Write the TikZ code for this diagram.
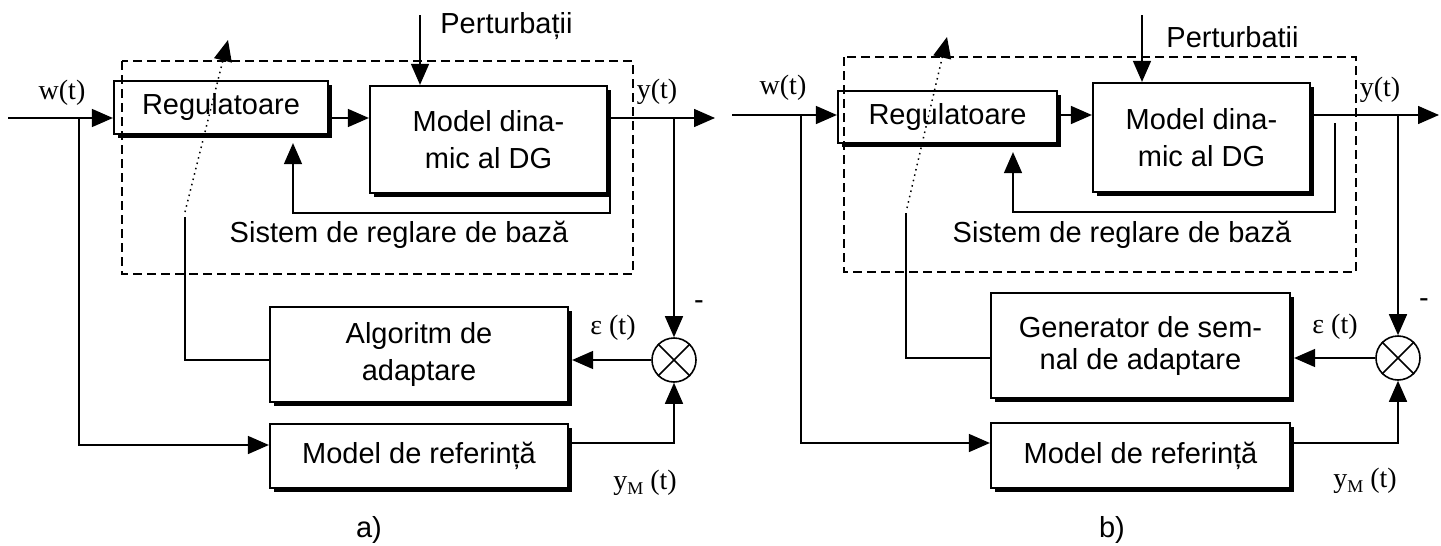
\documentclass[tikz,border=0pt]{standalone}
\usepackage{fontspec}
\setmainfont{Liberation Sans}
\newfontfamily\serf{Liberation Serif}
\usetikzlibrary{arrows.meta,shadows}
\begin{document}
\begin{tikzpicture}[x=0.5pt,y=-0.5pt,
  conn/.style={line width=0.75pt},
  arr/.style={conn,-{Triangle[length=10.5pt,width=9pt]}},
  blk/.style={draw,line width=1.1pt,fill=white,inner sep=2pt,align=center,
    font=\fontsize{14.5}{18.5}\selectfont,
    drop shadow={shadow xshift=2pt,shadow yshift=-2pt,fill=black,opacity=1}},
  sumnode/.style={draw,circle,line width=0.8pt,minimum size=22pt,inner sep=0pt},
  dashbox/.style={line width=0.75pt,dash pattern=on 4.5pt off 2.5pt},
  lbl/.style={font=\fontsize{14.5}{17}\selectfont,inner sep=0pt},
  sig/.style={font=\serf\fontsize{14}{16}\selectfont,inner sep=0pt},
]
\useasboundingbox (0,0) rectangle (1441,546);

% ================= a) =================
\node[blk,minimum width=107pt,minimum height=26.5pt] (a-reg) at (221,107.5) {Regulatoare};
\node[blk,minimum width=118.5pt,minimum height=53.5pt] (a-mod) at (488.5,139.5) {Model dina-\\mic al DG};
\node[blk,minimum width=149pt,minimum height=47.5pt] (a-alg) at (419,354.5) {Algoritm de\\adaptare};
\node[blk,minimum width=149pt,minimum height=32pt] (a-ref) at (419,456) {Model de referință};
\node[sumnode] (a-sum) at (674,360) {};

\coordinate (a-in) at (8,118);
\coordinate (a-br) at (79,118);
\coordinate (a-out) at (715,118);
\coordinate (a-yb) at (674,118);
\coordinate (a-fb) at (610,118);
\coordinate (a-fbc) at (293,213);
\coordinate (a-p) at (420,15);
\coordinate (a-d1) at (185,212);
\coordinate (a-d2) at (228,40);
\coordinate (a-s1) at (185,217);
\coordinate (a-rb) at (79,445);
\coordinate (a-rc) at (674,443);

\draw[arr] (a-in) -- (a-in -| a-reg.west);
\draw[arr] (a-in -| a-reg.east) -- (a-in -| a-mod.west);
\draw[arr] (a-in -| a-mod.east) -- (a-out);
\draw[arr] (a-yb) -- (a-sum.north);
\draw[arr,shorten >=4pt] (a-fb) |- (a-fbc) -- (a-fbc |- a-reg.south);
\draw[arr] (a-p) -- (a-p |- a-mod.north);
\draw[conn,dotted,-{Triangle[length=10.5pt,width=9pt]}] (a-d1) -- (a-d2);
\draw[conn] (a-s1) |- (a-alg.west |- a-sum.center);
\draw[arr,shorten >=1.5pt] (a-sum.west) -- (a-sum.west -| a-alg.east);
\draw[arr] (a-br) -- (a-rb) -- (a-rb -| a-ref.west);
\draw[arr] (a-rc -| a-ref.east) -- (a-rc) -- (a-sum.south);
\draw[conn] (a-sum.north east) -- (a-sum.south west) (a-sum.north west) -- (a-sum.south east);
\draw[dashbox] (122,61) rectangle (633,274);

\node[sig] (a-w) at (62,93) {w(t)};
\node[sig] (a-y) at (657,92) {y(t)};
\node[sig] (a-e) at (613,328) {ε (t)};
\node[lbl] (a-minus) at (699,305) {-};
\node[sig] (a-ym) at (645,483) {y\raisebox{-0.4ex}{\small M} (t)};
\node[lbl,anchor=west] (a-pert) at (440,26) {Perturbații};
\node[lbl] (a-sis) at (399,235) {Sistem de reglare de bază};
\node[lbl] (a-cap) at (369,530) {a)};

% ================= b) =================
\node[blk,minimum width=109.5pt,minimum height=26pt] (b-reg) at (947.5,117) {Regulatoare};
\node[blk,minimum width=108.5pt,minimum height=54.5pt] (b-mod) at (1201.5,137.5) {Model dina-\\mic al DG};
\node[blk,minimum width=149.5pt,minimum height=52.5pt,font=\fontsize{14.5}{16}\selectfont] (b-gen) at (1140.5,345.5) {Generator de sem-\\nal de adaptare};
\node[blk,minimum width=149.5pt,minimum height=32.5pt] (b-ref) at (1140.5,455.5) {Model de referință};
\node[sumnode] (b-sum) at (1398,358) {};

\coordinate (b-in) at (732,115);
\coordinate (b-br) at (801,115);
\coordinate (b-out) at (1439,115);
\coordinate (b-yb) at (1398,115);
\coordinate (b-fb) at (1335,123);
\coordinate (b-fbc) at (1013,212);
\coordinate (b-p) at (1142,15);
\coordinate (b-d1) at (907,208);
\coordinate (b-d2) at (947,37);
\coordinate (b-s1) at (906,213);
\coordinate (b-rb) at (801,443);
\coordinate (b-rc) at (1398,443);

\draw[arr] (b-in) -- (b-in -| b-reg.west);
\draw[arr] (b-in -| b-reg.east) -- (b-in -| b-mod.west);
\draw[arr] (b-in -| b-mod.east) -- (b-out);
\draw[arr] (b-yb) -- (b-sum.north);
\draw[arr,shorten >=4pt] (b-fb) |- (b-fbc) -- (b-fbc |- b-reg.south);
\draw[arr] (b-p) -- (b-p |- b-mod.north);
\draw[conn,dotted,-{Triangle[length=10.5pt,width=9pt]}] (b-d1) -- (b-d2);
\draw[conn] (b-s1) |- (b-gen.west |- b-sum.center);
\draw[arr,shorten >=1.5pt] (b-sum.west) -- (b-sum.west -| b-gen.east);
\draw[arr] (b-br) -- (b-rb) -- (b-rb -| b-ref.west);
\draw[arr] (b-rc -| b-ref.east) -- (b-rc) -- (b-sum.south);
\draw[conn] (b-sum.north east) -- (b-sum.south west) (b-sum.north west) -- (b-sum.south east);
\draw[dashbox] (844,57) rectangle (1356,272);

\node[sig] (b-w) at (783,88) {w(t)};
\node[sig] (b-y) at (1380,90) {y(t)};
\node[sig] (b-e) at (1335,327) {ε (t)};
\node[lbl] (b-minus) at (1424,303) {-};
\node[sig] (b-ym) at (1365,481) {y\raisebox{-0.4ex}{\small M} (t)};
\node[lbl,anchor=west] (b-pert) at (1166,37) {Perturbatii};
\node[lbl] (b-sis) at (1122,235) {Sistem de reglare de bază};
\node[lbl] (b-cap) at (1112,530) {b)};
\end{tikzpicture}
\end{document}
